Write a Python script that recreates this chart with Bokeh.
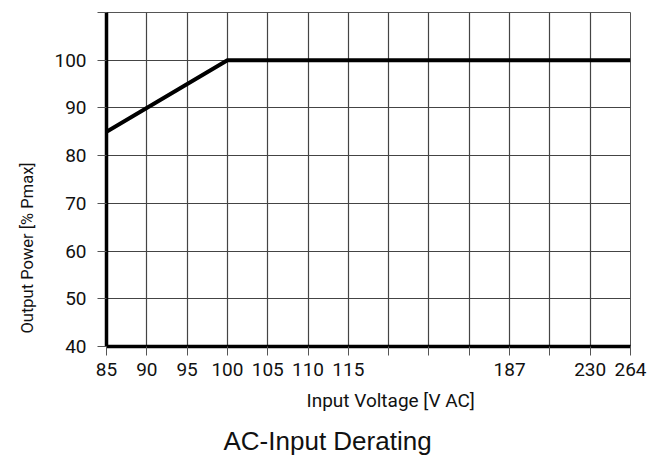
from bokeh.plotting import figure
from bokeh.models import FixedTicker, Title, Range1d
from bokeh.embed import file_html
from bokeh.resources import INLINE
import numpy as np

# Axis tick values (voltage) at each vertical gridline, and their labels
tick_volts = [85, 90, 95, 100, 105, 110, 115, 133, 151, 169, 187, 208, 230, 264]
tick_labels = ["85", "90", "95", "100", "105", "110", "115", "", "", "", "187", "", "230", "264"]
y_ticks = [40, 50, 60, 70, 80, 90, 100, 110]

# Derating curve
volt = [85, 100, 264]
power = [85, 100, 100]

COND = "Roboto"

idx = list(range(len(tick_volts)))
xs = np.interp(volt, tick_volts, idx)

p = figure(width=664, height=459, x_range=Range1d(0, len(idx) - 1), y_range=Range1d(40, 110),
           output_backend="svg", toolbar_location=None,
           min_border_left=106, min_border_right=34, min_border_top=12, min_border_bottom=113)

p.outline_line_color = "#555555"
p.outline_line_width = 1

p.xaxis.ticker = FixedTicker(ticks=idx)
p.xaxis.major_label_overrides = {i: lab for i, lab in zip(idx, tick_labels)}
p.yaxis.ticker = FixedTicker(ticks=y_ticks)
p.yaxis.major_label_overrides = {110: ""}

for ax in (p.xaxis, p.yaxis):
    ax.axis_line_width = 3.5
    ax.axis_line_color = "black"
    ax.major_tick_out = 9
    ax.major_tick_in = 0
    ax.major_tick_line_color = "#555555"
    ax.major_tick_line_width = 1
    ax.minor_tick_line_color = None
    ax.major_label_text_font = COND
    ax.major_label_text_font_size = "19px"
    ax.major_label_text_color = "#111111"
p.xaxis.major_label_standoff = 7
p.yaxis.major_label_standoff = 11

p.xgrid.ticker = FixedTicker(ticks=idx)
p.ygrid.ticker = FixedTicker(ticks=y_ticks)
for g in (p.xgrid, p.ygrid):
    g.grid_line_color = "#444444"
    g.grid_line_width = 1.2
    g.grid_line_alpha = 1.0

p.line(xs, power, line_width=4, line_color="black")

p.add_layout(Title(text="Input Voltage [V AC]", align="left", offset=200, standoff=17,
                   text_font=COND, text_font_size="19px", text_font_style="normal",
                   text_color="#111111"), "below")
p.add_layout(Title(text="AC-Input Derating", align="left", offset=117, standoff=7,
                   text_font="Liberation Sans", text_font_size="26px", text_font_style="normal",
                   text_color="#111111"), "below")
p.add_layout(Title(text="Output Power [% Pmax]", align="left", offset=13, standoff=29,
                   text_font=COND, text_font_size="16.5px", text_font_style="normal",
                   text_color="#111111"), "left")

open("out.html", "w").write(file_html(p, INLINE))
